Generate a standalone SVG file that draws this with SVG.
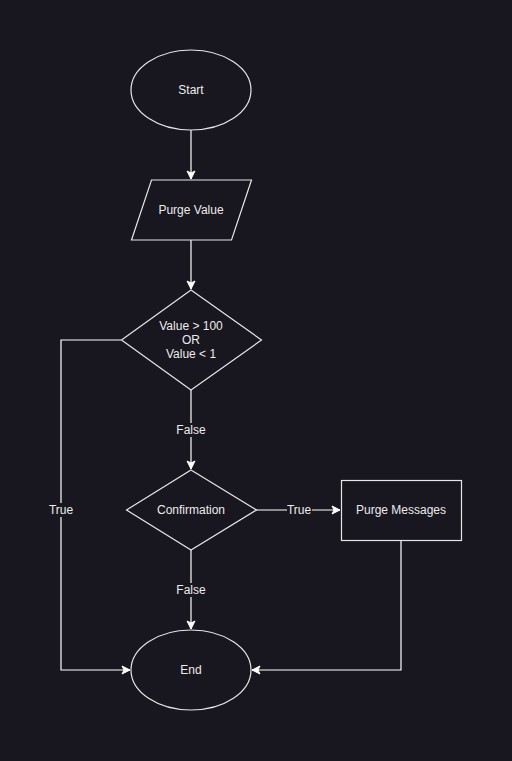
<svg xmlns="http://www.w3.org/2000/svg" width="512" height="761" viewBox="0 0 512 761">
<defs>
<marker id="arr" markerUnits="userSpaceOnUse" markerWidth="12" markerHeight="12" viewBox="-9 -6 12 12" refX="0" refY="0" orient="auto">
<path d="M0,0 L-8,-4 L-6,0 L-8,4 Z" fill="#ffffff" stroke="#ffffff" stroke-width="1"/>
</marker>
</defs>
<style>
.node{fill:none;stroke:#e6e6e6;stroke-width:1.2}
.t{font-family:"Liberation Sans",Arial,sans-serif;font-size:12px;fill:#ececec;text-anchor:middle;dominant-baseline:central}
.c{fill:none;stroke:#ffffff;stroke-width:1.2}
.lb{fill:#18161e}
</style>
<rect x="0" y="0" width="512" height="761" fill="#18161e"/>
<g id="connectors">
<path class="c" d="M191,130 L191,179" marker-end="url(#arr)"/>
<path class="c" d="M191,240 L191,289" marker-end="url(#arr)"/>
<path class="c" d="M191,390 L191,469" marker-end="url(#arr)"/>
<path class="c" d="M121,340 L61,340 L61,670 L130,670" marker-end="url(#arr)"/>
<path class="c" d="M256,510 L340,510" marker-end="url(#arr)"/>
<path class="c" d="M191,550 L191,629" marker-end="url(#arr)"/>
<path class="c" d="M401,540 L401,670 L252,670" marker-end="url(#arr)"/>
<rect class="lb" x="175" y="423" width="32" height="14"/>
<text class="t" x="191" y="430">False</text>
<rect class="lb" x="48" y="503" width="26" height="14"/>
<text class="t" x="61" y="510">True</text>
<rect class="lb" x="287" y="503" width="25" height="14"/>
<text class="t" x="299" y="510">True</text>
<rect class="lb" x="175" y="583" width="32" height="14"/>
<text class="t" x="191" y="590">False</text>
</g>
<g id="start">
<ellipse class="node" cx="191" cy="90" rx="60" ry="40"/>
<text class="t" x="191" y="90">Start</text>
</g>
<g id="purge-value">
<path class="node" d="M151.5,180 L251.5,180 L231.5,240 L131.5,240 Z"/>
<text class="t" x="191" y="210">Purge Value</text>
</g>
<g id="value-check">
<path class="node" d="M191,290 L261.5,340 L191,390 L121.5,340 Z"/>
<text class="t" x="191" y="326">Value &gt; 100</text>
<text class="t" x="191" y="340">OR</text>
<text class="t" x="191" y="354">Value &lt; 1</text>
</g>
<g id="confirmation">
<path class="node" d="M191,470 L256.5,510 L191,550 L126.5,510 Z"/>
<text class="t" x="191" y="510">Confirmation</text>
</g>
<g id="purge-messages">
<rect class="node" x="341.5" y="480.5" width="120" height="60"/>
<text class="t" x="401" y="510">Purge Messages</text>
</g>
<g id="end">
<ellipse class="node" cx="191" cy="670" rx="60" ry="40"/>
<text class="t" x="191" y="670">End</text>
</g>
</svg>
